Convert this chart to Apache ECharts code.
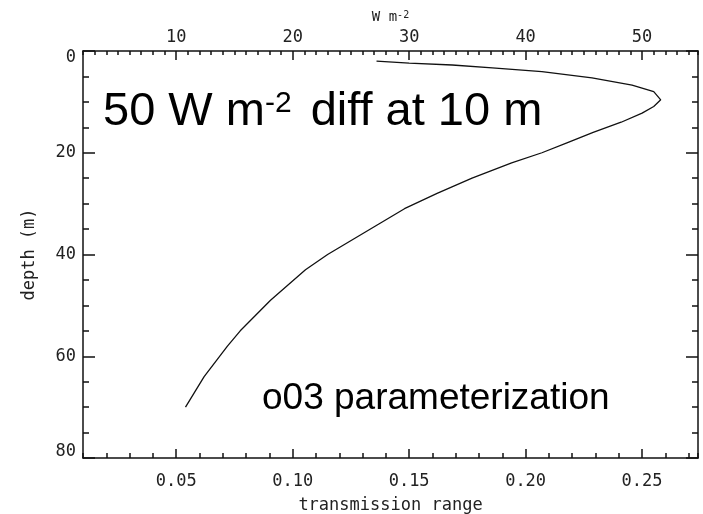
<!DOCTYPE html>
<html>
<head>
<meta charset="utf-8">
<script src="https://cdn.jsdelivr.net/npm/echarts@6/dist/echarts.min.js"></script>
<style>
html,body{margin:0;padding:0;background:#fff;}
#chart{width:703px;height:514px;}
</style>
</head>
<body>
<div id="chart"></div>
<script>
// depth (m) of each profile point
const depth = [2, 2.4, 2.75, 3.3, 4.05, 5.3, 6.7, 8, 9.6, 10.9, 12.2, 14, 16, 18, 20, 22, 25, 28, 31, 34, 37, 40, 43, 46, 49, 52, 55, 58, 61, 64, 67, 70];
// transmission range at each depth
const transmission = [0.136, 0.150, 0.1685, 0.1857, 0.207, 0.2285, 0.2457, 0.255, 0.258, 0.255, 0.250, 0.241, 0.229, 0.218, 0.207, 0.194, 0.177, 0.162, 0.148, 0.137, 0.126, 0.115, 0.1055, 0.098, 0.0905, 0.084, 0.0775, 0.072, 0.067, 0.062, 0.058, 0.054];
// axis ranges
const transMin = 0.01, transMax = 0.274;
const depthMin = 0, depthMax = 80;
const wattsPerTransmission = 200; // top axis: W m^-2 = transmission * 200

const seriesData = depth.map((d, i) => [transmission[i], d]);

const labelFont = {fontFamily: 'DejaVu Sans Mono', fontSize: 17, color: '#222'};
const lineStyle = {color: '#111', width: 1.5};

const chart = echarts.init(document.getElementById('chart'), null, {renderer: 'canvas'});
chart.setOption({
  animation: false,
  backgroundColor: '#fff',
  grid: {left: 83, right: 5, top: 51, bottom: 56, containLabel: false, outerBoundsMode: 'none'},
  xAxis: [
    {
      type: 'value', position: 'bottom', min: transMin, max: transMax, splitNumber: 5,
      axisLine: {show: true, onZero: false, lineStyle: lineStyle},
      axisTick: {show: true, inside: true, length: 9, lineStyle: lineStyle},
      axisLabel: Object.assign({margin: 15, showMinLabel: false, showMaxLabel: false,
        formatter: v => v.toFixed(2)}, labelFont),
      splitLine: {show: false},
      name: 'transmission range', nameLocation: 'middle', nameGap: 39,
      nameTextStyle: labelFont
    },
    {
      type: 'value', position: 'bottom', min: transMin, max: transMax, interval: 0.01,
      axisLine: {show: false, onZero: false},
      axisTick: {show: true, inside: true, length: 5, lineStyle: lineStyle},
      axisLabel: {show: false}, splitLine: {show: false}
    },
    {
      type: 'value', position: 'top', min: transMin * wattsPerTransmission, max: transMax * wattsPerTransmission, splitNumber: 5,
      axisLine: {show: true, onZero: false, lineStyle: lineStyle},
      axisTick: {show: true, inside: true, length: 9, lineStyle: lineStyle},
      axisLabel: Object.assign({margin: 5, showMinLabel: false, showMaxLabel: false}, labelFont),
      splitLine: {show: false},
      name: 'W m{s|-2}', nameLocation: 'middle', nameGap: 25,
      nameTextStyle: Object.assign({}, labelFont, {fontSize: 14,
        rich: {s: {fontFamily: 'DejaVu Sans Mono', fontSize: 10, color: '#222', verticalAlign: 'top', padding: [0, 0, 4, 0]}}})
    },
    {
      type: 'value', position: 'top', min: transMin * wattsPerTransmission, max: transMax * wattsPerTransmission, interval: 1,
      axisLine: {show: false, onZero: false},
      axisTick: {show: true, inside: true, length: 4, lineStyle: lineStyle},
      axisLabel: {show: false}, splitLine: {show: false}
    }
  ],
  yAxis: [
    {
      type: 'value', position: 'left', inverse: true, min: depthMin, max: depthMax, interval: 20,
      axisLine: {show: true, onZero: false, lineStyle: lineStyle},
      axisTick: {show: true, inside: true, length: 12, lineStyle: lineStyle},
      minorTick: {show: true, splitNumber: 4, length: 6, lineStyle: lineStyle},
      axisLabel: Object.assign({margin: 7,
        formatter: v => v === depthMin ? '{lo|' + v + '}' : (v === depthMax ? '{hi|' + v + '}' : String(v)),
        rich: {
          lo: {fontFamily: 'DejaVu Sans Mono', fontSize: 17, color: '#222', padding: [14, 0, 0, 0]},
          hi: {fontFamily: 'DejaVu Sans Mono', fontSize: 17, color: '#222', padding: [0, 0, 12, 0]}
        }}, labelFont),
      splitLine: {show: false},
      name: 'depth (m)', nameLocation: 'middle', nameGap: 45, nameRotate: 90,
      nameTextStyle: labelFont
    },
    {
      type: 'value', position: 'right', inverse: true, min: depthMin, max: depthMax, interval: 20,
      axisLine: {show: true, onZero: false, lineStyle: lineStyle},
      axisTick: {show: true, inside: true, length: 12, lineStyle: lineStyle},
      minorTick: {show: true, splitNumber: 4, length: 6, lineStyle: lineStyle},
      axisLabel: {show: false},
      splitLine: {show: false}
    }
  ],
  series: [{
    type: 'line', xAxisIndex: 0, yAxisIndex: 0,
    data: seriesData, showSymbol: false, symbol: 'none',
    lineStyle: {color: '#111', width: 1.3}, smooth: false
  }],
  graphic: [
    {
      type: 'text', x: 103, y: 112, silent: true,
      style: {
        text: '50 W m{s|-2} diff at 10 m',
        fontFamily: 'Liberation Sans', fontSize: 47, fill: '#000',
        verticalAlign: 'middle', align: 'left',
        rich: {s: {fontFamily: 'Liberation Sans', fontSize: 30, verticalAlign: 'top', fill: '#000', padding: [0, 6, 0, 0]}}
      }
    },
    {
      type: 'text', x: 262, y: 399, silent: true,
      style: {
        text: 'o03 parameterization',
        fontFamily: 'Liberation Sans', fontSize: 37, fill: '#000',
        verticalAlign: 'middle', align: 'left'
      }
    }
  ]
});
</script>
</body>
</html>
